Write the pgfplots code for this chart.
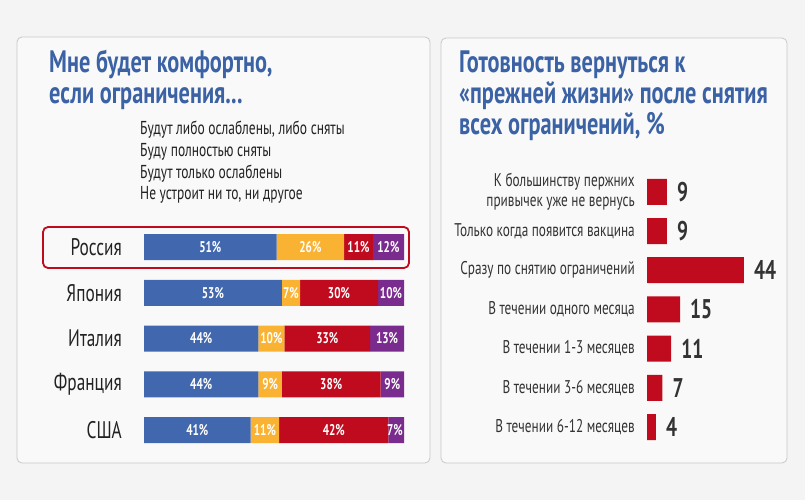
\documentclass[border=0pt]{standalone}
\usepackage{pgfplots}
\pgfplotsset{compat=1.18}
\usepackage{fontspec}
\setmainfont{PT Sans}[FakeStretch=0.72]
\definecolor{bgc}{HTML}{F4F4F4}
\definecolor{panel}{HTML}{F9F9F9}
\definecolor{border}{HTML}{C8C8C8}
\definecolor{tblue}{HTML}{3B62A5}
\definecolor{cblue}{HTML}{4168AE}
\definecolor{cyellow}{HTML}{FAB232}
\definecolor{cred}{HTML}{C00B1E}
\definecolor{cpurple}{HTML}{7A2B8E}
\definecolor{txt}{HTML}{222222}
\definecolor{txt2}{HTML}{333333}
\pgfplotstableread{
y a b c d
4 51 26 11 12
3 53 7 30 10
2 44 10 33 13
1 44 9 38 9
0 41 11 42 7
}\comfort
\pgfplotstableread{
x y lab
25.5 4 51\%
64 4 26\%
82.5 4 11\%
94 4 12\%
26.5 3 53\%
56.5 3 7\%
75 3 30\%
95 3 10\%
22 2 44\%
49 2 10\%
70.5 2 33\%
93.5 2 13\%
22 1 44\%
48.5 1 9\%
72 1 38\%
95.5 1 9\%
20.5 0 41\%
46.5 0 11\%
73 0 42\%
96.5 0 7\%
}\comfortlab
\pgfplotstableread{
y v
6 9
5 9
4 44
3 15
2 11
1 7
0 4
}\ready
\begin{document}
\begin{tikzpicture}[x=1pt,y=1pt]
\fill[bgc] (0,0) rectangle (805,-500);
\filldraw[fill=panel, draw=border, line width=0.8pt, rounded corners=5pt] (17,-37) rectangle (430,-463);
\filldraw[fill=panel, draw=border, line width=0.8pt, rounded corners=5pt] (441,-38) rectangle (787,-463);
% titles
\begin{scope}[every node/.style={anchor=base west, inner sep=0pt, text=tblue, font=\bfseries\fontsize{31}{32}\selectfont}]
\node at (49,-73) {Мне будет комфортно,};
\node at (49,-103) {если ограничения...};
\node at (459,-73) {Готовность вернуться к};
\node at (459,-104) {«прежней жизни» после снятия};
\node at (459,-135) {всех ограничений, \%};
\end{scope}
\begin{scope}[every node/.style={anchor=base west, inner sep=0pt, text=txt, font=\fontsize{18.7}{20}\selectfont}]
\node at (140,-135) {Будут либо ослаблены, либо сняты};
\node at (140,-156.5) {Буду полностью сняты};
\node at (140,-178) {Будут только ослаблены};
\node at (140,-199.5) {Не устроит ни то, ни другое};
\end{scope}
\draw[cred, line width=1.8pt, rounded corners=5pt] (43,-227) rectangle (409,-268);
% left stacked bars
\begin{axis}[at={(144pt,-452.9pt)}, anchor=south west, scale only axis,
  width=260pt, height=228.75pt, xbar stacked, bar width=26pt,
  xmin=0, xmax=100, ymin=-0.5, ymax=4.5,
  axis line style={draw=none}, xtick=\empty, ytick={0,...,4},
  major tick length=0pt,
  yticklabels={США,Франция,Италия,Япония,Россия},
  yticklabel style={anchor=east, inner sep=0pt, xshift=-22pt, text=txt, font=\fontsize{24}{24}\selectfont}]
\addplot[fill=cblue, draw=none] table[x=a, y=y] {\comfort};
\addplot[fill=cyellow, draw=none] table[x=b, y=y] {\comfort};
\addplot[fill=cred, draw=none] table[x=c, y=y] {\comfort};
\addplot[fill=cpurple, draw=none] table[x=d, y=y] {\comfort};
\end{axis}
\begin{axis}[at={(144pt,-452.9pt)}, anchor=south west, scale only axis,
  width=260pt, height=228.75pt, xmin=0, xmax=100, ymin=-0.5, ymax=4.5, hide axis, clip=false]
\addplot[only marks, mark=*, mark size=0pt, mark options={draw=none, fill=none},
  nodes near coords, point meta=explicit symbolic,
  every node near coord/.style={anchor=center, inner sep=0pt, text=white, font=\bfseries\fontsize{15.5}{15.5}\selectfont}]
  table[x=x, y=y, meta=lab] {\comfortlab};
\end{axis}
% right bars
\begin{axis}[at={(647pt,-446.6pt)}, anchor=south west, scale only axis,
  width=110pt, height=274.4pt, xbar, bar width=26pt,
  xmin=0, xmax=50, ymin=-0.5, ymax=6.5, clip=false,
  axis line style={draw=none}, xtick=\empty, ytick={0,...,6},
  major tick length=0pt,
  /pgf/number format/assume math mode=true,
  yticklabels={В течении 6-12 месяцев, В течении 3-6 месяцев, В течении 1-3 месяцев, В течении одного месяца, Сразу по снятию ограничений, Только когда появится вакцина, {К большинству пержних\\привычек уже не вернусь}},
  yticklabel style={anchor=east, align=right, inner sep=0pt, xshift=-12pt, text=txt2, font=\fontsize{18.4}{19.5}\selectfont},
  nodes near coords,
  every node near coord/.style={anchor=west, inner sep=0pt, xshift=10pt, text=txt2, font=\bfseries\fontsize{27}{27}\selectfont}]
\addplot[fill=cred, draw=none] table[x=v, y=y] {\ready};
\end{axis}
\end{tikzpicture}
\end{document}
